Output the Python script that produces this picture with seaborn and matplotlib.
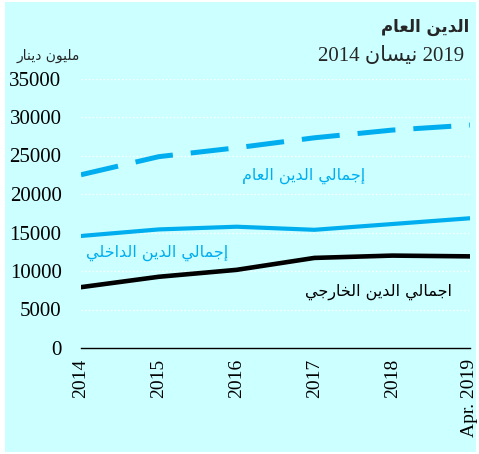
import numpy as np
import pandas as pd
import seaborn as sns
import matplotlib
matplotlib.use('Agg')
import matplotlib.pyplot as plt
from matplotlib.patches import Rectangle

# Data (million dinar)
years = ['2014', '2015', '2016', '2017', '2018', 'Apr. 2019']
total_debt = [22500, 24850, 26000, 27300, 28300, 28950]
domestic_debt = [14550, 15400, 15750, 15350, 16100, 16850]
external_debt = [7900, 9250, 10150, 11700, 12000, 11900]
y_ticks = [0, 5000, 10000, 15000, 20000, 25000, 30000, 35000]

BG = '#ccffff'
BLUE = '#00aeef'

# Arabic presentation forms: isolated, final, initial, medial
FORMS = {
    '\u0627': ('\uFE8D', '\uFE8E', None, None),
    '\u0625': ('\uFE87', '\uFE88', None, None),
    '\u062F': ('\uFEA9', '\uFEAA', None, None),
    '\u0631': ('\uFEAD', '\uFEAE', None, None),
    '\u0648': ('\uFEED', '\uFEEE', None, None),
    '\u062C': ('\uFE9D', '\uFE9E', '\uFE9F', '\uFEA0'),
    '\u062E': ('\uFEA5', '\uFEA6', '\uFEA7', '\uFEA8'),
    '\u0633': ('\uFEB1', '\uFEB2', '\uFEB3', '\uFEB4'),
    '\u0639': ('\uFEC9', '\uFECA', '\uFECB', '\uFECC'),
    '\u0644': ('\uFEDD', '\uFEDE', '\uFEDF', '\uFEE0'),
    '\u0645': ('\uFEE1', '\uFEE2', '\uFEE3', '\uFEE4'),
    '\u0646': ('\uFEE5', '\uFEE6', '\uFEE7', '\uFEE8'),
    '\u064A': ('\uFEF1', '\uFEF2', '\uFEF3', '\uFEF4'),
}


def shape(text):
    '''Join arabic letters and reverse them, matplotlib draws left to right'''
    out = []
    n = len(text)
    for i, ch in enumerate(text):
        if ch not in FORMS:
            out.append(ch)
            continue
        prev = text[i - 1] if i > 0 else ''
        nxt = text[i + 1] if i < n - 1 else ''
        join_prev = prev in FORMS and FORMS[prev][2] is not None
        join_next = nxt in FORMS and FORMS[ch][2] is not None
        iso, fin, ini, med = FORMS[ch]
        if join_prev and join_next:
            out.append(med)
        elif join_prev:
            out.append(fin)
        elif join_next:
            out.append(ini)
        else:
            out.append(iso)
    return ''.join(out)[::-1]


sns.set_style('white')
plt.rcParams['font.family'] = ['Liberation Serif', 'DejaVu Sans']

fig = plt.figure(figsize=(4.79, 4.54), dpi=100)
fig.patch.set_facecolor('white')
fig.patches.append(Rectangle((5 / 479, 2 / 454), 471 / 479, 450 / 454,
                             transform=fig.transFigure, facecolor=BG,
                             edgecolor='none', zorder=-10))

ax = fig.add_axes([81 / 479, 1 - 348 / 454, 389 / 479, 269.5 / 454])
ax.set_facecolor('none')
ax.set_zorder(5)

df = pd.DataFrame({'year': years, 'total': total_debt,
                   'domestic': domestic_debt, 'external': external_debt})

sns.lineplot(data=df, x='year', y='total', ax=ax, color=BLUE, linewidth=3.6, sort=False)
ax.lines[-1].set_dashes((7.6, 3.6))
sns.lineplot(data=df, x='year', y='domestic', ax=ax, color=BLUE, linewidth=3.0, sort=False)
sns.lineplot(data=df, x='year', y='external', ax=ax, color='black', linewidth=3.3, sort=False)

ax.set_xlim(0, len(years) - 1)
ax.set_ylim(0, 35000)
ax.set_yticks(y_ticks)
ax.set_yticklabels([str(v) for v in y_ticks])
ax.set_xlabel('')
ax.set_ylabel('')

ax.yaxis.grid(True, color='white', linestyle=':', linewidth=1)
ax.xaxis.grid(False)
for side in ['left', 'top', 'right']:
    ax.spines[side].set_visible(False)
ax.spines['bottom'].set_color('black')
ax.spines['bottom'].set_linewidth(1)
ax.tick_params(axis='x', direction='out', length=5, width=1, color='black',
               labelsize=14, labelrotation=90, pad=3)
ax.tick_params(axis='y', length=0, labelsize=15, pad=14)
for lbl in ax.get_xticklabels() + ax.get_yticklabels():
    lbl.set_color('black')

# Titles
fig.text(469 / 479, 1 - 27 / 454, shape('الدين العام'), ha='right', va='center',
         fontsize=12, fontweight='bold', family=['DejaVu Sans'])
fig.text(464 / 479, 1 - 56 / 454, '2014 ' + shape('نيسان') + ' 2019', ha='right',
         va='center', fontsize=15, family=['Liberation Serif', 'DejaVu Sans'])
fig.text(48 / 479, 1 - 56 / 454, shape('مليون دينار'), ha='center', va='center',
         fontsize=10, family=['DejaVu Sans'])

# Line labels
fig.text(304 / 479, 1 - 176 / 454, shape('إجمالي الدين العام'), ha='center',
         va='center', fontsize=11.5, color=BLUE, family=['DejaVu Sans'])
fig.text(157 / 479, 1 - 253 / 454, shape('إجمالي الدين الداخلي'), ha='center',
         va='center', fontsize=11.5, color=BLUE, family=['DejaVu Sans'])
fig.text(378 / 479, 1 - 292 / 454, shape('اجمالي الدين الخارجي'), ha='center',
         va='center', fontsize=11.5, color='black', family=['DejaVu Sans'])

fig.savefig('out.png', dpi=100, facecolor='white')
